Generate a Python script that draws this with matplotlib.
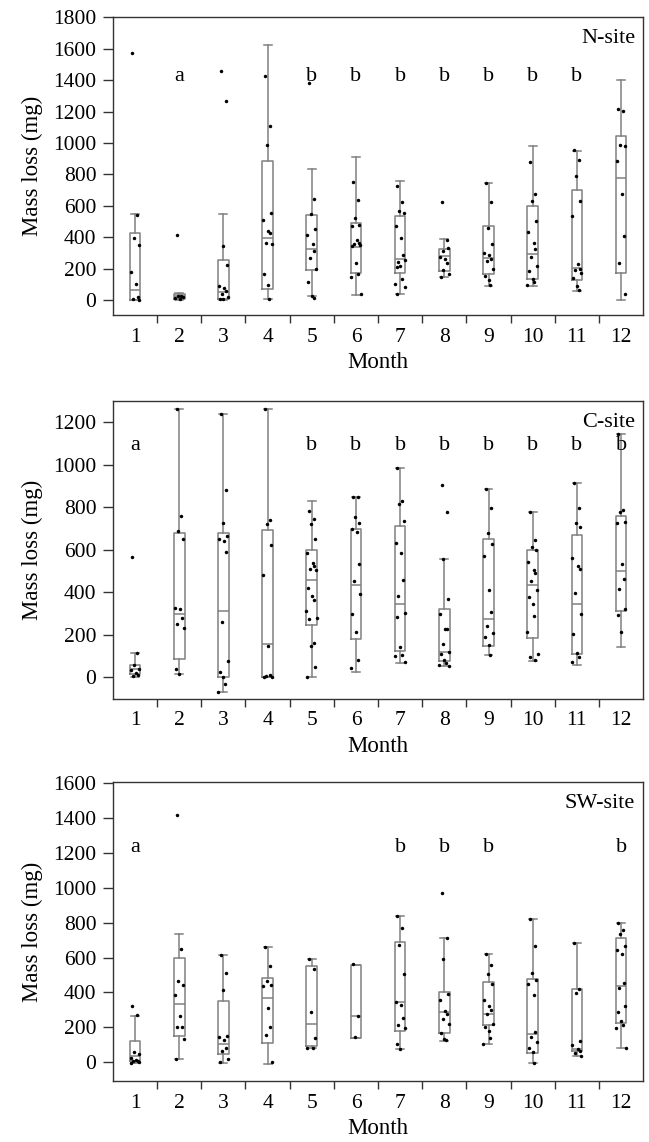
import matplotlib
matplotlib.use("Agg")
import matplotlib.pyplot as plt
from matplotlib.ticker import FixedLocator, NullFormatter, FixedFormatter

plt.rcParams['font.family'] = ['Liberation Serif', 'DejaVu Serif']
plt.rcParams['font.size'] = 15

months = list(range(1, 13))
month_labels = [str(m) for m in months]

# ---------- N-site ----------
n_q1 = [0, 5, 5, 70, 195, 176, 176, 186, 165, 136, 127, 176]
n_med = [64, 25, 55, 398, 328, 339, 261, 280, 271, 292, 208, 778]
n_q3 = [430, 42, 254, 886, 540, 494, 536, 328, 473, 598, 703, 1043]
n_wlo = [0, 0, 0, 10, 25, 34, 38, 146, 93, 91, 61, 0]
n_whi = [547, 45, 551, 1625, 833, 909, 756, 390, 746, 981, 947, 1399]
n_points = [
    [1574, 545, 398, 350, 180, 102, 21, 5, 2],
    [413, 30, 25, 22, 15, 5],
    [1458, 1265, 343, 222, 90, 80, 60, 40, 20, 10, 5],
    [1426, 1110, 990, 557, 508, 438, 430, 364, 355, 165, 95, 10],
    [1381, 644, 550, 453, 413, 360, 310, 271, 200, 117, 25, 15],
    [754, 636, 520, 480, 470, 385, 365, 355, 350, 345, 240, 170, 150, 40],
    [729, 625, 570, 555, 470, 398, 290, 244, 255, 212, 215, 138, 104, 85, 40],
    [627, 380, 314, 330, 275, 260, 240, 195, 170, 150],
    [745, 627, 460, 356, 301, 290, 265, 250, 201, 153, 130, 100],
    [881, 678, 630, 506, 437, 367, 328, 275, 218, 189, 138, 114, 95],
    [953, 892, 792, 633, 534, 229, 201, 190, 174, 140, 91, 68],
    [1214, 1205, 990, 980, 886, 674, 407, 239, 38],
]
n_letters = ['', 'a', '', '', 'b', 'b', 'b', 'b', 'b', 'b', 'b', '']

# ---------- C-site ----------
c_q1 = [16, 85, 0, 0, 246, 179, 124, 77, 147, 187, 108, 311]
c_med = [38, 296, 314, 155, 458, 434, 344, 118, 274, 434, 344, 499]
c_q3 = [58, 678, 678, 693, 599, 700, 711, 320, 653, 599, 671, 758]
c_wlo = [0, 14, -71, 0, 0, 24, 69, 55, 104, 77, 56, 141]
c_whi = [116, 1263, 1242, 1263, 831, 850, 984, 555, 888, 780, 913, 1148]
c_points = [
    [568, 115, 60, 40, 35, 20, 10, 5],
    [1263, 759, 690, 653, 325, 320, 278, 251, 231, 39, 15],
    [1240, 881, 725, 667, 650, 642, 588, 259, 78, 25, 0, -30, -70],
    [1263, 740, 720, 623, 483, 147, 10, 5, 0, 0],
    [783, 745, 720, 653, 583, 540, 525, 510, 505, 419, 385, 364, 311, 278, 275, 160, 149, 50, 0],
    [850, 848, 756, 725, 696, 682, 532, 455, 392, 300, 212, 82, 42],
    [984, 830, 814, 736, 631, 587, 458, 381, 301, 282, 144, 105, 100, 74],
    [905, 780, 555, 367, 300, 229, 225, 157, 119, 110, 80, 69, 60, 55],
    [888, 798, 678, 626, 573, 411, 309, 242, 207, 191, 152, 104],
    [780, 646, 615, 599, 541, 503, 493, 455, 411, 380, 344, 289, 215, 110, 97, 80],
    [913, 798, 728, 706, 563, 525, 510, 395, 296, 202, 116, 97, 70],
    [1148, 787, 780, 731, 725, 532, 461, 416, 323, 293, 215],
]
c_letters = ['a', '', '', '', 'b', 'b', 'b', 'b', 'b', 'b', 'b', 'b']

# ---------- SW-site ----------
s_q1 = [8, 151, 48, 113, 94, 141, 180, 166, 216, 55, 65, 227]
s_med = [36, 333, 103, 369, 218, 266, 344, 287, 277, 161, 75, 438]
s_q3 = [122, 598, 352, 484, 552, 558, 686, 400, 457, 476, 419, 711]
s_wlo = [-6, 21, -6, -11, 84, 141, 75, 124, 103, -6, 38, 84]
s_whi = [268, 736, 616, 658, 591, 558, 839, 711, 621, 820, 682, 797]
s_points = [
    [323, 270, 57, 50, 27, 15, 10, 5, 0, -5],
    [1413, 648, 468, 440, 386, 268, 201, 200, 134, 20],
    [615, 510, 415, 153, 143, 128, 84, 65, 20, 0],
    [658, 552, 466, 440, 435, 310, 205, 157, 0],
    [591, 535, 287, 138, 84, 80],
    [560, 266, 145],
    [839, 768, 669, 505, 344, 330, 256, 212, 195, 105, 75],
    [967, 711, 593, 390, 357, 296, 275, 250, 218, 170, 136, 125],
    [620, 558, 505, 447, 356, 323, 300, 277, 218, 205, 180, 141, 103],
    [820, 667, 514, 472, 447, 386, 176, 143, 119, 84, 61, -6],
    [682, 419, 396, 124, 99, 75, 65, 52, 38],
    [797, 759, 734, 667, 644, 621, 453, 428, 325, 287, 237, 216, 195, 84],
]
s_letters = ['a', '', '', '', '', '', 'b', 'b', 'b', '', '', 'b']

site_names = ['N-site', 'C-site', 'SW-site']
ylims = [(-95, 1800), (-102, 1302), (-107, 1603)]
yticks = [list(range(0, 1801, 200)), list(range(0, 1201, 200)), list(range(0, 1601, 200))]
letter_y = [1420, 1090, 1230]

sites = [
    (n_q1, n_med, n_q3, n_wlo, n_whi, n_points, n_letters),
    (c_q1, c_med, c_q3, c_wlo, c_whi, c_points, c_letters),
    (s_q1, s_med, s_q3, s_wlo, s_whi, s_points, s_letters),
]

jitter = [-0.06, 0.05, -0.02, 0.08, -0.1, 0.02, 0.06, -0.04, 0.1, -0.08, 0.0, 0.04, -0.12, 0.11]

fig = plt.figure(figsize=(6.49, 11.42), dpi=100)
positions = [
    [0.174, 0.724, 0.817, 0.261],
    [0.174, 0.388, 0.817, 0.261],
    [0.174, 0.0534, 0.817, 0.2616],
]

box_color = '#808080'
for i, (q1, med, q3, wlo, whi, pts, letters) in enumerate(sites):
    ax = fig.add_axes(positions[i])
    stats = []
    for k in range(12):
        stats.append(dict(q1=q1[k], med=med[k], q3=q3[k], whislo=wlo[k], whishi=whi[k], fliers=[]))
    ax.bxp(stats, positions=months, widths=0.24, showfliers=False, capwidths=0.18,
           boxprops=dict(color=box_color, linewidth=1.1),
           medianprops=dict(color=box_color, linewidth=1.1),
           whiskerprops=dict(color=box_color, linewidth=1.1),
           capprops=dict(color=box_color, linewidth=1.1),
           manage_ticks=False)
    for k in range(12):
        xs = [months[k] + jitter[j % len(jitter)] for j in range(len(pts[k]))]
        ax.plot(xs, pts[k], 'o', color='black', markersize=2.5, markeredgewidth=0, zorder=5)
    for k in range(12):
        if letters[k]:
            ax.text(months[k], letter_y[i], letters[k], ha='center', va='center', fontsize=16)
    ax.text(0.985, 0.96, site_names[i], transform=ax.transAxes, ha='right', va='top', fontsize=16)

    ax.set_xlim(0.5, 12.5)
    ax.set_ylim(*ylims[i])
    ax.set_yticks(yticks[i])
    ax.xaxis.set_major_locator(FixedLocator([m + 0.5 for m in months[:-1]]))
    ax.xaxis.set_major_formatter(NullFormatter())
    ax.xaxis.set_minor_locator(FixedLocator(months))
    ax.xaxis.set_minor_formatter(FixedFormatter(month_labels))
    ax.tick_params(axis='x', which='major', length=6, width=1, direction='out', color='#333333')
    ax.tick_params(axis='x', which='minor', length=0, pad=9, labelsize=15.5)
    ax.tick_params(axis='y', length=7, width=1, direction='out', pad=5, labelsize=15.5, color='#333333')
    for sp in ax.spines.values():
        sp.set_color('#333333')
        sp.set_linewidth(1.0)
    ax.set_xlabel('Month', fontsize=16.5, labelpad=4)
    ax.set_ylabel('Mass loss (mg)', fontsize=16.5, labelpad=7)

fig.savefig('out.png', dpi=100)
